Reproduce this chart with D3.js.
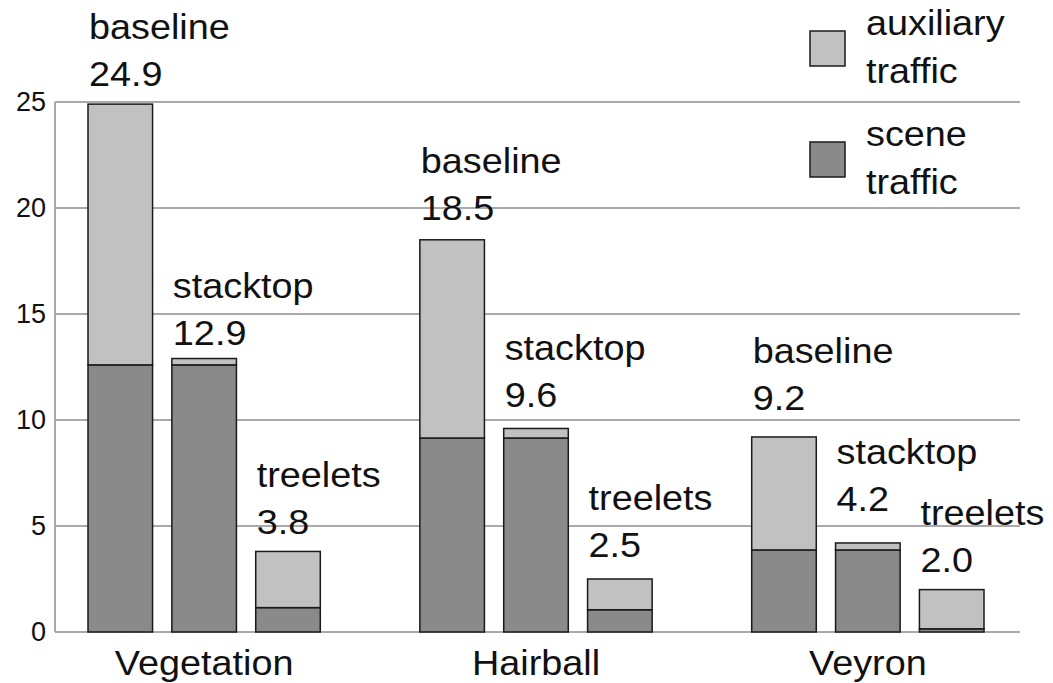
<!DOCTYPE html>
<html>
<head>
<meta charset="utf-8">
<script src="https://cdn.jsdelivr.net/npm/d3@7"></script>
<style>
  html, body { margin: 0; padding: 0; background: #fff; }
  svg text { font-family: "Liberation Sans", Arial, sans-serif; fill: #111; }
</style>
</head>
<body>
<svg id="chart" width="1053" height="683"></svg>
<script>
// Traffic per scene and method (stacked: scene traffic + auxiliary traffic)
const scenes = ["Vegetation", "Hairball", "Veyron"];
const methods = ["baseline", "stacktop", "treelets"];
const totalTraffic = [
  [24.9, 12.9, 3.8],
  [18.5, 9.6, 2.5],
  [9.2, 4.2, 2.0]
];
const sceneTraffic = [
  [12.6, 12.6, 1.15],
  [9.15, 9.15, 1.05],
  [3.87, 3.87, 0.15]
];
const yTicks = [0, 5, 10, 15, 20, 25];
const legendItems = [
  { key: "auxiliary", lines: ["auxiliary", "traffic"] },
  { key: "scene", lines: ["scene", "traffic"] }
];
// vertical gap (px) between each bar top and its value label
const labelLift = [
  [18, 14, 17],
  [20, 21, 22],
  [27, 32, 18]
];

const colors = { auxiliary: "#c1c1c1", scene: "#8a8a8a" };
const textStretch = 1.08; // slightly wide lettering

const svg = d3.select("#chart");
const plotLeft = 55, plotRight = 1020;

const y = d3.scaleLinear().domain([0, 25]).range([632, 102]);
const x0 = d3.scaleBand().domain(scenes).range([88, 984]).paddingInner(0.3);
const x1 = d3.scaleBand().domain(methods).range([0, x0.bandwidth()]).paddingInner(0.23);

const place = (tx, ty) => `translate(${tx},${ty}) scale(${textStretch},1)`;

// horizontal grid lines
svg.append("g")
  .selectAll("line")
  .data(yTicks)
  .join("line")
  .attr("x1", plotLeft)
  .attr("x2", plotRight)
  .attr("y1", d => y(d))
  .attr("y2", d => y(d))
  .attr("stroke", "#8e8e8e")
  .attr("stroke-width", 1.3);

// left axis line
svg.append("line")
  .attr("x1", plotLeft).attr("x2", plotLeft)
  .attr("y1", y(25)).attr("y2", y(0))
  .attr("stroke", "#a8a8a8")
  .attr("stroke-width", 2);

// y tick labels
const yAxis = d3.axisLeft(y).tickValues(yTicks).tickSize(0).tickPadding(9);
const yg = svg.append("g").attr("transform", `translate(${plotLeft},0)`).call(yAxis);
yg.select(".domain").remove();
yg.selectAll("text")
  .style("font-family", "'Liberation Sans', Arial, sans-serif")
  .style("font-size", "27px")
  .attr("fill", "#111");

// stacked bars
const rows = [];
scenes.forEach((s, i) => {
  methods.forEach((m, j) => {
    rows.push({ scene: s, method: m, total: totalTraffic[i][j], base: sceneTraffic[i][j], lift: labelLift[i][j] });
  });
});

const groups = svg.append("g").selectAll("g")
  .data(rows)
  .join("g")
  .attr("transform", d => `translate(${x0(d.scene) + x1(d.method)},0)`);

groups.append("rect")
  .attr("x", 0)
  .attr("width", x1.bandwidth())
  .attr("y", d => y(d.base))
  .attr("height", d => y(0) - y(d.base))
  .attr("fill", colors.scene)
  .attr("stroke", "#1a1a1a")
  .attr("stroke-width", 1.5);

groups.append("rect")
  .attr("x", 0)
  .attr("width", x1.bandwidth())
  .attr("y", d => y(d.total))
  .attr("height", d => y(d.base) - y(d.total))
  .attr("fill", colors.auxiliary)
  .attr("stroke", "#1a1a1a")
  .attr("stroke-width", 1.5);

// method name and total above each bar
groups.append("text")
  .attr("transform", d => place(1, y(d.total) - d.lift))
  .style("font-size", "35px")
  .text(d => d3.format(".1f")(d.total));

groups.append("text")
  .attr("transform", d => place(1, y(d.total) - d.lift - 47))
  .style("font-size", "35px")
  .text(d => d.method);

// scene names under each group
svg.append("g").selectAll("text")
  .data(scenes)
  .join("text")
  .attr("transform", d => place(x0(d) + x0.bandwidth() / 2, 675))
  .attr("text-anchor", "middle")
  .style("font-size", "35px")
  .text(d => d);

// legend
const legend = svg.append("g").selectAll("g")
  .data(legendItems)
  .join("g")
  .attr("transform", (d, i) => `translate(810,${31 + i * 111})`);

legend.append("rect")
  .attr("width", 35)
  .attr("height", 35)
  .attr("fill", d => colors[d.key])
  .attr("stroke", "#1a1a1a")
  .attr("stroke-width", 1.5);

legend.selectAll("text")
  .data(d => d.lines)
  .join("text")
  .attr("transform", (d, i) => place(56, 4 + i * 48))
  .style("font-size", "35px")
  .text(d => d);
</script>
</body>
</html>
